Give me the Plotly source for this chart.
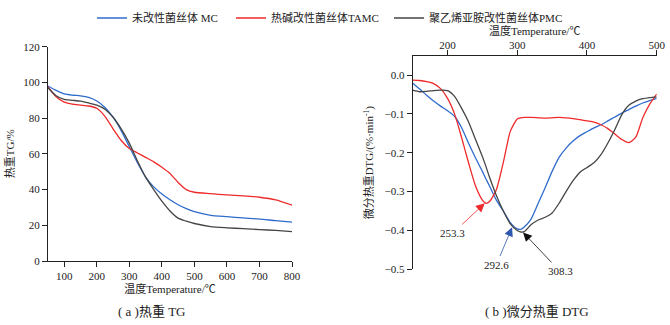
import plotly.graph_objects as go

# ---- TG data (left) ----
tg_temp = [50, 75, 100, 125, 150, 175, 200, 225, 250, 275, 300, 325, 350, 375, 400,
           425, 450, 475, 500, 550, 600, 650, 700, 750, 800]
tg_mc = [98, 95.5, 93.6, 92.9, 92.5, 91.6, 89.6, 86, 80.5, 73, 64, 55, 47, 41.5, 37.5,
         34.3, 31.5, 29.3, 27.6, 25.6, 24.8, 24.1, 23.5, 22.6, 21.8]
tg_tamc = [97.5, 92, 89, 87.8, 87.3, 86.8, 85.5, 81, 74, 67.5, 63, 60.5, 58, 55.5, 52.5,
           49, 44, 40, 38.5, 37.7, 37, 36.5, 35.7, 34.2, 31.3]
tg_pmc = [97, 92.5, 90.5, 90, 89.5, 88.5, 87.3, 85, 80.5, 74, 66, 56, 47, 40, 33.5,
          28, 24, 22.3, 21, 19.3, 18.6, 18.1, 17.6, 17.1, 16.5]

# ---- DTG data (right) ----
dtg_temp = [150, 160, 170, 180, 190, 200, 210, 220, 230, 240, 250, 255, 260, 270, 280,
            290, 300, 305, 310, 320, 330, 340, 350, 360, 370, 380, 390, 400, 410, 420,
            430, 440, 450, 460, 470, 480, 490, 500]
dtg_mc = [-0.021, -0.036, -0.052, -0.067, -0.080, -0.092, -0.106, -0.135, -0.175, -0.213,
          -0.248, -0.267, -0.285, -0.322, -0.350, -0.380, -0.396, -0.397, -0.391, -0.370,
          -0.330, -0.290, -0.248, -0.212, -0.188, -0.170, -0.156, -0.146, -0.136, -0.128,
          -0.118, -0.108, -0.098, -0.089, -0.080, -0.072, -0.066, -0.060]
dtg_tamc = [-0.013, -0.014, -0.017, -0.022, -0.035, -0.060, -0.100, -0.160, -0.225, -0.285,
            -0.322, -0.330, -0.326, -0.295, -0.225, -0.145, -0.113, -0.110, -0.109, -0.109,
            -0.110, -0.111, -0.110, -0.109, -0.110, -0.112, -0.115, -0.118, -0.121, -0.128,
            -0.138, -0.152, -0.166, -0.174, -0.160, -0.110, -0.075, -0.049]
dtg_pmc = [-0.039, -0.043, -0.042, -0.040, -0.039, -0.040, -0.055, -0.085, -0.120, -0.165,
           -0.210, -0.235, -0.262, -0.310, -0.350, -0.383, -0.400, -0.404, -0.403, -0.385,
           -0.373, -0.366, -0.355, -0.330, -0.300, -0.272, -0.250, -0.238, -0.226, -0.205,
           -0.175, -0.140, -0.102, -0.078, -0.067, -0.061, -0.058, -0.056]

peak_temps = [253.3, 292.6, 308.3]
peak_vals = [-0.330, -0.392, -0.405]
peak_colors = ["#ee2a2a", "#2f56b0", "#111111"]
peak_offsets = [(-32, 30), (-16, 38), (37, 39)]

names = ["未改性菌丝体 MC", "热碱改性菌丝体TAMC", "聚乙烯亚胺改性菌丝体PMC"]
colors = ["#2f6bcc", "#ee2a2a", "#454545"]
legend_ids = ["legend", "legend2", "legend3"]
legend_x = [92, 231, 389]

captions = ["( a )热重 TG", "( b )微分热重 DTG"]

FONT = "Liberation Serif, Noto Sans CJK SC"

W, H = 670, 325


def ydom(bottom_px, top_px):
    return [(H - bottom_px) / H, (H - top_px) / H]


fig = go.Figure()
for name, ys, c, lg in zip(names, [tg_mc, tg_tamc, tg_pmc], colors, legend_ids):
    fig.add_trace(go.Scatter(x=tg_temp, y=ys, mode="lines", name=name, legend=lg,
                             line=dict(color=c, width=1.3, shape="spline", smoothing=0.6),
                             xaxis="x", yaxis="y"))
for name, ys, c in zip(names, [dtg_mc, dtg_tamc, dtg_pmc], colors):
    fig.add_trace(go.Scatter(x=dtg_temp, y=ys, mode="lines", name=name, showlegend=False,
                             line=dict(color=c, width=1.3, shape="spline", smoothing=0.6),
                             xaxis="x2", yaxis="y2"))

axis_common = dict(showgrid=False, zeroline=False, showline=True, linecolor="#222",
                   linewidth=1, ticks="outside", ticklen=5, tickcolor="#222", automargin=False,
                   tickfont=dict(family=FONT, size=11, color="#222"))

legend_style = dict(orientation="h", y=1 - 18 / H, xanchor="left", yanchor="middle",
                    font=dict(family=FONT, size=11, color="#222"),
                    bgcolor="rgba(0,0,0,0)")

fig.update_layout(
    width=W, height=H,
    margin=dict(l=0, r=0, t=0, b=0, autoexpand=False),
    paper_bgcolor="white", plot_bgcolor="white",
    font=dict(family=FONT, size=11, color="#222"),
    showlegend=True,
    legend=dict(x=legend_x[0] / W, **legend_style),
    legend2=dict(x=legend_x[1] / W, **legend_style),
    legend3=dict(x=legend_x[2] / W, **legend_style),
    xaxis=dict(domain=[48 / W, 292 / W], range=[50, 800], tickvals=[100, 200, 300, 400, 500, 600, 700, 800],
               title=dict(text="温度Temperature/℃", font=dict(family=FONT, size=11), standoff=0),
               anchor="y", **axis_common),
    yaxis=dict(domain=ydom(261, 46.7), range=[0, 120], tickvals=[0, 20, 40, 60, 80, 100, 120],
               title=dict(text="热重TG/%", font=dict(family=FONT, size=11), standoff=6),
               anchor="x", **axis_common),
    xaxis2=dict(domain=[412.7 / W, 656.7 / W], range=[150, 500], tickvals=[200, 300, 400, 500], side="top",
                ticklabelstandoff=-3,
                title=dict(text="温度Temperature/℃", font=dict(family=FONT, size=11), standoff=0),
                anchor="y2", **axis_common),
    yaxis2=dict(domain=ydom(269.3, 56), range=[-0.5, 0.049], tickvals=[-0.5, -0.4, -0.3, -0.2, -0.1, 0.0],
                tickformat=".1f",
                title=dict(text="微分热重DTG/(%·min<sup>-1</sup>)", font=dict(family=FONT, size=11), standoff=8),
                anchor="x2", **axis_common),
)

for t, v, c, (ax, ay) in zip(peak_temps, peak_vals, peak_colors, peak_offsets):
    fig.add_annotation(x=t, y=v, xref="x2", yref="y2", text=f"{t:.1f}", showarrow=True,
                       ax=ax, ay=ay, arrowcolor=c, arrowwidth=0.8, arrowhead=2, arrowsize=2.2,
                       standoff=0, startstandoff=2,
                       font=dict(family=FONT, size=11, color="#222"))

for cx, cap in zip([152, 537], captions):
    fig.add_annotation(x=cx / W, y=(H - 311) / H, xref="paper", yref="paper", showarrow=False,
                       xanchor="center", yanchor="middle", text=cap,
                       font=dict(family=FONT, size=13, color="#222"))

fig.write_html("out.html", config={"displayModeBar": False},
               post_script="document.body.style.margin='0';")
